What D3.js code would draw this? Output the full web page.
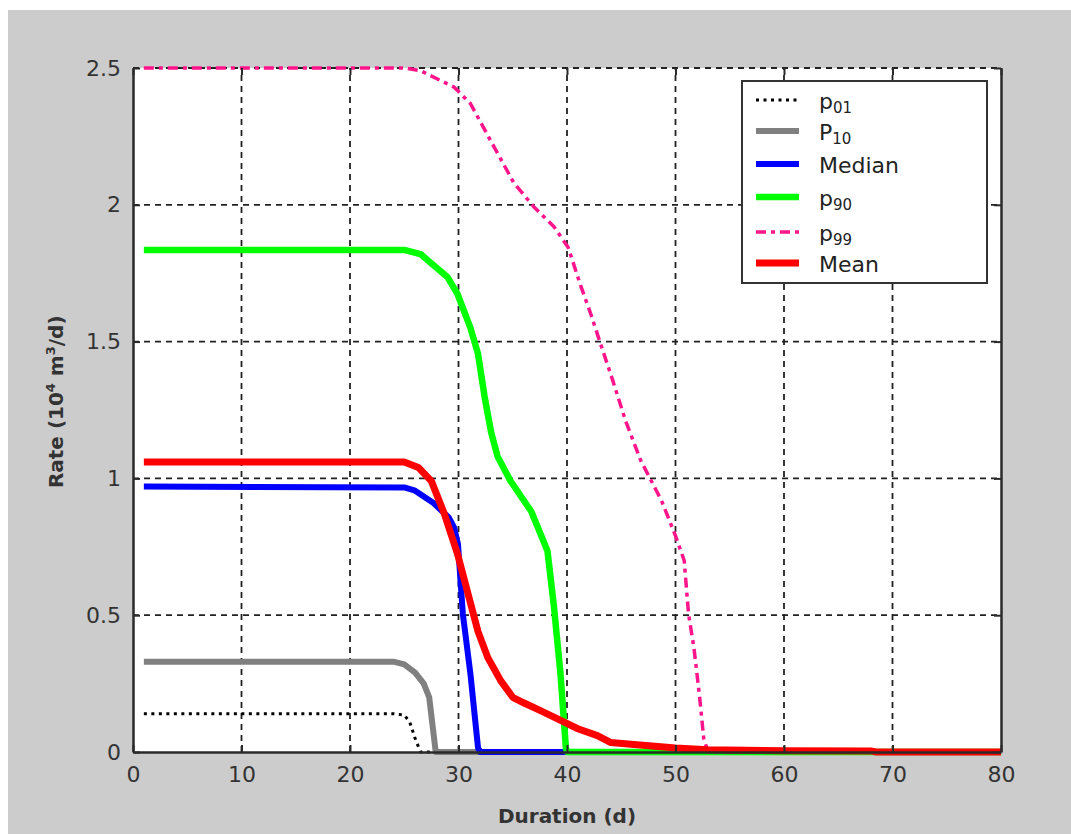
<!DOCTYPE html>
<html>
<head>
<meta charset="utf-8">
<script src="https://cdn.jsdelivr.net/npm/d3@7"></script>
<style>
  body { margin: 0; background: #fff; }
  svg { display: block; }
  text { font-family: "DejaVu Sans", Verdana, sans-serif; }
</style>
</head>
<body>
<svg id="chart" width="1071" height="834"></svg>
<script>
// values: [duration (d), rate (10^4 m3/d)]
const p01 = [[1, 0.14], [24, 0.14], [25, 0.135], [25.5, 0.11], [26, 0.05], [26.5, 0], [28, 0]];
const p10 = [[1, 0.33], [24, 0.33], [25, 0.32], [26, 0.29], [26.8, 0.25], [27.3, 0.2], [27.6, 0.1], [27.9, 0], [80, 0]];
const median = [[1, 0.97], [25, 0.967], [26, 0.955], [27.7, 0.91], [29.1, 0.857], [29.6, 0.82], [29.95, 0.76], [30.4, 0.505], [31.1, 0.285], [31.8, 0.015], [32, 0], [80, 0]];
const p90 = [[1, 1.835], [25, 1.835], [26.5, 1.82], [29, 1.735], [29.9, 1.675], [31.1, 1.55], [31.8, 1.455], [32.4, 1.3], [33, 1.17], [33.6, 1.08], [34.8, 0.99], [36.7, 0.88], [38, 0.755], [38.2, 0.735], [38.8, 0.53], [39.4, 0.285], [39.9, 0.015], [40, 0], [80, 0]];
const p99 = [[1, 2.5], [25, 2.5], [26.5, 2.49], [29.6, 2.43], [31.1, 2.37], [33.3, 2.21], [35.1, 2.08], [37, 1.99], [38.8, 1.92], [40.1, 1.845], [41.3, 1.7], [42.2, 1.6], [43.4, 1.455], [44.2, 1.36], [45.4, 1.21], [46.8, 1.065], [48.7, 0.92], [50, 0.79], [50.8, 0.7], [51.2, 0.505], [51.7, 0.38], [52.2, 0.21], [52.6, 0.05], [53, 0], [80, 0]];
const mean = [[1, 1.06], [25, 1.06], [26.3, 1.04], [27.5, 0.99], [28.7, 0.87], [29.9, 0.725], [30.8, 0.59], [31.8, 0.44], [32.7, 0.345], [33.9, 0.26], [35, 0.2], [36, 0.18], [37.6, 0.15], [39.7, 0.11], [41, 0.085], [42.8, 0.06], [44, 0.035], [47, 0.025], [50, 0.015], [53, 0.008], [60, 0.005], [68, 0.004], [68.5, 0], [80, 0]];

const xTicks = [0, 10, 20, 30, 40, 50, 60, 70, 80];
const yTicks = [0, 0.5, 1, 1.5, 2, 2.5];
const yTickLabels = ['0', '0.5', '1', '1.5', '2', '2.5'];

const series = [
  { name: 'p', sub: '01', data: p01, color: '#000', width: 3, dash: '3,4.5' },
  { name: 'P', sub: '10', data: p10, color: '#808080', width: 6, dash: null },
  { name: 'Median', sub: '', data: median, color: '#0000ff', width: 6, dash: null },
  { name: 'p', sub: '90', data: p90, color: '#00ff00', width: 6.5, dash: null },
  { name: 'p', sub: '99', data: p99, color: '#ff148c', width: 3.5, dash: '10,5,4,5' },
  { name: 'Mean', sub: '', data: mean, color: '#ff0000', width: 7, dash: null }
];

const width = 1071;
const height = 834;
const margin = { top: 68, right: 70, bottom: 82, left: 133 };

const svg = d3.select('#chart');

// gray figure background
svg.append('rect')
  .attr('x', 8).attr('y', 10)
  .attr('width', width - 8).attr('height', height - 10)
  .attr('fill', '#cccccc');

const x = d3.scaleLinear().domain([0, 80]).range([margin.left, width - margin.right]);
const y = d3.scaleLinear().domain([0, 2.5]).range([height - margin.bottom, margin.top]);

svg.append('rect')
  .attr('x', x(0)).attr('y', y(2.5))
  .attr('width', x(80) - x(0)).attr('height', y(0) - y(2.5))
  .attr('fill', '#fff');

// dashed grid
const grid = svg.append('g').attr('stroke', '#222').attr('stroke-width', 1.8).attr('stroke-dasharray', '6,5');
grid.selectAll('.gx').data(xTicks.slice(1, -1)).join('line')
  .attr('x1', (d) => x(d)).attr('x2', (d) => x(d))
  .attr('y1', y(0)).attr('y2', y(2.5));
grid.selectAll('.gy').data(yTicks.slice(1)).join('line')
  .attr('x1', x(0)).attr('x2', x(80))
  .attr('y1', (d) => y(d)).attr('y2', (d) => y(d));

// curves
const line = d3.line().x((d) => x(d[0])).y((d) => y(d[1]));
svg.append('g')
  .selectAll('path')
  .data(series)
  .join('path')
  .attr('fill', 'none')
  .attr('stroke', (d) => d.color)
  .attr('stroke-width', (d) => d.width)
  .attr('stroke-dasharray', (d) => d.dash)
  .attr('stroke-linejoin', 'round')
  .attr('d', (d) => line(d.data));

// axes: bottom and left with labels, top and right ticks only
const axisColor = '#2a2a2a';
const xAxis = (g) =>
  g
    .attr('transform', `translate(0,${y(0)})`)
    .call(d3.axisBottom(x).tickValues(xTicks).tickSizeInner(-7).tickSizeOuter(0).tickPadding(14))
    .call((g) => g.select('.domain').attr('stroke', axisColor).attr('stroke-width', 2.5));

const yAxis = (g) =>
  g
    .attr('transform', `translate(${x(0)},0)`)
    .call(d3.axisLeft(y).tickValues(yTicks).tickFormat((d, i) => yTickLabels[i]).tickSizeInner(-7).tickSizeOuter(0).tickPadding(12))
    .call((g) => g.select('.domain').attr('stroke', axisColor).attr('stroke-width', 2.5));

svg.append('g').call(xAxis);
svg.append('g').call(yAxis);

svg.append('g')
  .attr('transform', `translate(0,${y(2.5)})`)
  .call(d3.axisTop(x).tickValues(xTicks).tickSizeInner(-7).tickSizeOuter(0).tickFormat(''))
  .call((g) => g.select('.domain').remove());

svg.append('g')
  .attr('transform', `translate(${x(80)},0)`)
  .call(d3.axisRight(y).tickValues(yTicks).tickSizeInner(-7).tickSizeOuter(0).tickFormat(''))
  .call((g) => g.select('.domain').attr('stroke', axisColor).attr('stroke-width', 2.5));

svg.selectAll('.tick line').attr('stroke', axisColor).attr('stroke-width', 2);
svg.selectAll('.tick text')
  .attr('fill', '#333')
  .style('font-size', '22px')
  .style('font-family', '"DejaVu Sans", Verdana, sans-serif');

// axis titles
svg.append('text')
  .attr('x', x(40)).attr('y', 823)
  .attr('text-anchor', 'middle')
  .attr('font-size', 20).attr('font-weight', 'bold').attr('fill', '#333')
  .text('Duration (d)');

const yt = svg.append('text')
  .attr('transform', `translate(63,${y(1.28)}) rotate(-90)`)
  .attr('text-anchor', 'middle')
  .attr('font-size', 20).attr('font-weight', 'bold').attr('fill', '#333');
yt.append('tspan').text('Rate (10');
yt.append('tspan').attr('font-size', 13).attr('dy', -8).text('4');
yt.append('tspan').attr('dy', 8).text(' m');
yt.append('tspan').attr('font-size', 13).attr('dy', -8).text('3');
yt.append('tspan').attr('dy', 8).text('/d)');

// legend
const legend = svg.append('g').attr('transform', 'translate(742,81)');
legend.append('rect')
  .attr('width', 245).attr('height', 202)
  .attr('fill', '#fff').attr('stroke', '#333').attr('stroke-width', 2);

const rowY = [19, 50, 83, 116, 151, 182];
const rows = legend.selectAll('.row').data(series).join('g')
  .attr('transform', (d, i) => `translate(0,${rowY[i]})`);
rows.append('line')
  .attr('x1', 14).attr('x2', 57)
  .attr('stroke', (d) => d.color)
  .attr('stroke-width', (d) => d.width)
  .attr('stroke-dasharray', (d) => d.dash);
const label = rows.append('text')
  .attr('x', 77).attr('y', 9)
  .attr('font-size', 22).attr('fill', '#222');
label.append('tspan').text((d) => d.name);
label.append('tspan')
  .attr('font-size', 15).attr('dy', 4)
  .text((d) => d.sub);
</script>
</body>
</html>
